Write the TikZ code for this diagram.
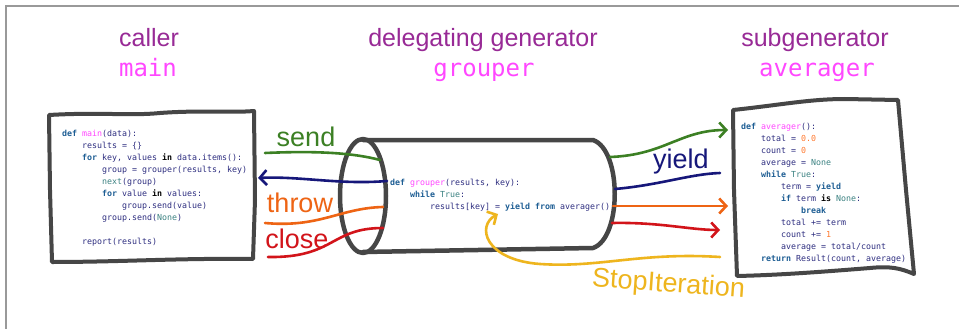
\documentclass[tikz,border=0pt]{standalone}
\usepackage{fontspec}
\setmainfont{Liberation Sans}
\newfontfamily\codefont{DejaVu Sans Mono}
\usetikzlibrary{arrows.meta}
\definecolor{titlec}{HTML}{982A96}
\definecolor{namec}{HTML}{FF47FF}
\definecolor{kwc}{HTML}{1E5E94}
\definecolor{idc}{HTML}{2E2E80}
\definecolor{bic}{HTML}{3C8282}
\definecolor{numc}{HTML}{FF7A30}
\definecolor{boxc}{HTML}{464646}
\definecolor{sendc}{HTML}{3C8024}
\definecolor{yieldc}{HTML}{16177A}
\definecolor{throwc}{HTML}{EE6414}
\definecolor{closec}{HTML}{D2141A}
\definecolor{stopc}{HTML}{EEB51E}
\newcommand\kw[1]{\textcolor{kwc}{\bfseries #1}}
\newcommand\tb{\hspace*{2.408em}}
\begin{document}
\begin{tikzpicture}[x=1pt, y=-1pt,
	heading/.style={font=\fontsize{25}{25}\selectfont, text=titlec, anchor=base},
	fname/.style={font=\codefont\fontsize{24}{24}\selectfont, text=namec, anchor=base},
	code/.style={font=\codefont\fontsize{8.3}{12}\selectfont, text=idc, align=left, inner sep=0pt, anchor=north west},
	sketch/.style={draw=boxc, line width=4pt, line join=round, line cap=round},
	hand/.style={font=\fontsize{27}{27}\selectfont, anchor=base},
	wire/.style={line width=2.6pt, line cap=round},
	wirearr/.style={wire, -{Straight Barb[length=7pt,width=15pt]}}]
	\useasboundingbox (0,0) rectangle (959,329);
	\fill[white] (0,0) rectangle (959,329);
	\draw[gray!80, line width=1.5pt] (6,329) -- (6,6) -- (959,6);

	\node[heading] (callerT) at (149,47) {caller};
	\node[fname] (mainT) at (148,77) {main};
	\node[heading] (delegT) at (483,47) {delegating generator};
	\node[fname] (grouperT) at (484,77) {grouper};
	\node[heading] (subT) at (815,47) {subgenerator};
	\node[fname] (averagerT) at (817,77) {averager};

	\draw[sketch] (49,115) .. controls (100,112) and (130,116) .. (160,113) .. controls (200,110) and (230,113) .. (254,111)
		-- (255,200) -- (253,259) .. controls (180,258) and (120,262) .. (52,262) -- (50,190) -- cycle;
	\draw[sketch] (733,110) .. controls (780,105) and (810,99) .. (845,99) -- (898,100)
		-- (906,190) -- (914,274) .. controls (900,268) and (890,266) .. (870,268) .. controls (820,272) and (780,275) .. (737,276) -- (734,190) -- cycle;
	\draw[sketch, line width=4.5pt] (363,140) -- (593,140) .. controls (622,150) and (622,238) .. (593,248) -- (363,252);
	\draw[sketch, line width=4.5pt] (363,196) ellipse [x radius=23, y radius=57];

	\node[code] (mainC) at (62,130) {\kw{def} \textcolor{namec}{main}(data):\\
		\tb results = \{\}\\
		\tb \kw{for} key, values \textcolor{black}{\bfseries in} data.items():\\
		\tb\tb group = grouper(results, key)\\
		\tb\tb \textcolor{bic}{next}(group)\\
		\tb\tb \kw{for} value \textcolor{black}{\bfseries in} values:\\
		\tb\tb\tb group.send(value)\\
		\tb\tb group.send(\textcolor{bic}{None})\\[12pt]
		\tb report(results)};
	\node[code] (grouperC) at (390,179) {\kw{def} \textcolor{namec}{grouper}(results, key):\\
		\tb \kw{while} \textcolor{bic}{True}:\\
		\tb\tb results[key] = \kw{yield} \kw{from} averager()};
	\node[code] (averagerC) at (741,123) {\kw{def} \textcolor{namec}{averager}():\\
		\tb total = \textcolor{numc}{0.0}\\
		\tb count = \textcolor{numc}{0}\\
		\tb average = \textcolor{bic}{None}\\
		\tb \kw{while} \textcolor{bic}{True}:\\
		\tb\tb term = \kw{yield}\\
		\tb\tb \kw{if} term \textcolor{black}{\bfseries is} \textcolor{bic}{None}:\\
		\tb\tb\tb \kw{break}\\
		\tb\tb total += term\\
		\tb\tb count += \textcolor{numc}{1}\\
		\tb\tb average = total/count\\
		\tb \kw{return} Result(count, average)};

	\path (265,153) coordinate (sendA) (380,160) coordinate (sendB)
		(387,181) coordinate (yieldA) (258,178) coordinate (yieldB)
		(265,223) coordinate (throwA) (383,207) coordinate (throwB)
		(268,257) coordinate (closeA) (383,228) coordinate (closeB)
		(610,157) coordinate (sendC) (728,130) coordinate (sendD)
		(615,189) coordinate (yieldC) (720,173) coordinate (yieldD)
		(613,206) coordinate (throwC) (728,206) coordinate (throwD)
		(612,223) coordinate (closeC) (720,230) coordinate (closeD)
		(720,257) coordinate (stopA) (498,214) coordinate (stopB);

	\draw[wire, sendc] (sendA) .. controls (310,151) and (350,152) .. (sendB);
	\draw[wirearr, yieldc] (yieldA) .. controls (340,185) and (300,176) .. (yieldB);
	\draw[wire, throwc] (throwA) .. controls (320,228) and (340,208) .. (throwB);
	\draw[wire, closec] (closeA) .. controls (335,258) and (330,228) .. (closeB);
	\draw[wirearr, sendc] (sendC) .. controls (665,155) and (680,130) .. (sendD);
	\draw[wire, yieldc] (yieldC) .. controls (660,185) and (690,174) .. (yieldD);
	\draw[wirearr, throwc] (throwC) -- (throwD);
	\draw[wirearr, closec] (closeC) .. controls (660,222) and (690,230) .. (closeD);
	\draw[wirearr, stopc] (stopA) .. controls (640,252) and (600,268) .. (540,264) .. controls (485,260) and (476,226) .. (stopB);

	\node[hand, text=sendc] (sendL) at (306,146) {send};
	\node[hand, text=throwc] (throwL) at (300,212) {throw};
	\node[hand, text=closec] (closeL) at (297,248) {close};
	\node[hand, text=yieldc] (yieldL) at (681,168) {yield};
	\node[hand, text=stopc, rotate=-4] (stopL) at (668,292) {StopIteration};
\end{tikzpicture}
\end{document}
